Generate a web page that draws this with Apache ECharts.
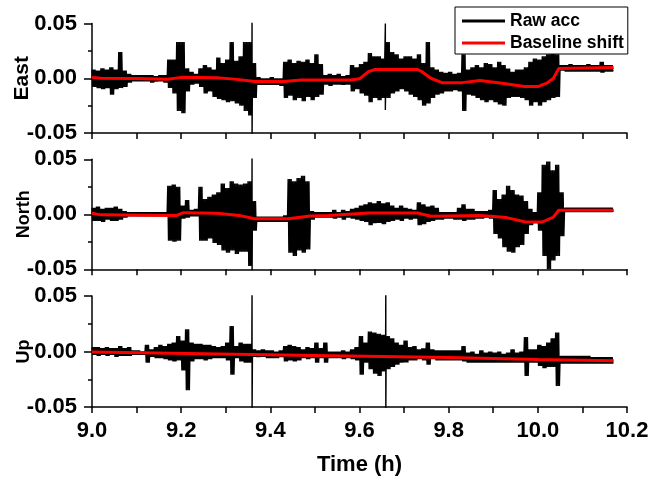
<!DOCTYPE html>
<html>
<head>
<meta charset="utf-8">
<script src="https://cdn.jsdelivr.net/npm/echarts@6/dist/echarts.min.js"></script>
<style>html,body{margin:0;padding:0;background:#fff}#c{width:651px;height:477px}</style>
</head>
<body>
<div id="c"></div>
<script>
// ---------------- DATA ----------------
// Raw acceleration envelopes, in units of 0.001, one bin per 0.01 h from 9.00 h to 10.16 h
const BIN_START = 9.00;
const BIN_WIDTH = 0.01;
const UNIT = 0.001;

const panelNames = ['East', 'North', 'Up'];
const xTicks = [9.0, 9.2, 9.4, 9.6, 9.8, 10.0, 10.2];
const yTicks = [-0.05, 0.00, 0.05];

const eastHi = [
  8,7,9,8,10,8,24,7,4,3,
  3,3,3,3,2,3,3,17,17,33,
  33,9,6,4,9,12,10,8,19,14,
  17,33,16,20,33,33,14,1,0,0,
  1,0,0,15,17,14,16,15,17,14,
  22,13,3,4,3,4,2,3,12,10,
  13,15,23,20,20,18,33,24,22,18,
  20,20,18,22,14,33,10,8,6,5,
  6,4,5,22,8,10,12,10,14,13,
  10,15,12,9,6,8,8,10,15,18,
  17,20,22,23,22,12,12,13,12,12,
  12,13,12,12,15,12,12
];
const eastLo = [
  -8,-9,-10,-9,-15,-10,-9,-8,-4,-3,
  -3,-3,-3,-4,-3,-3,-4,-9,-14,-30,
  -32,-12,-6,-5,-8,-14,-12,-17,-19,-20,
  -22,-21,-23,-25,-30,-34,-18,-6,-6,-6,
  -6,-6,-7,-18,-16,-20,-18,-21,-17,-20,
  -17,-15,-6,-7,-6,-6,-6,-6,-12,-10,
  -14,-16,-22,-18,-20,-18,-18,-14,-12,-10,
  -12,-15,-17,-20,-25,-23,-18,-15,-14,-12,
  -12,-11,-12,-30,-15,-16,-18,-20,-22,-20,
  -22,-24,-25,-18,-17,-17,-18,-20,-25,-22,
  -25,-22,-20,-18,-17,7,6,6,6,6,
  6,6,6,6,5,6,6
];
const eastSpikes = [[9.359, 60, -60], [9.658, 50, -29]];

const northHi = [
  6,7,5,6,6,7,5,3,2,2,
  2,2,2,2,2,2,2,26,27,25,
  8,13,4,5,25,14,16,18,20,28,
  24,30,28,27,28,30,12,-2,-2,-2,
  -2,-2,-2,-1,32,30,33,35,30,3,
  2,2,2,2,4,2,4,3,5,6,
  8,9,11,10,12,10,11,8,6,8,
  6,5,4,11,9,7,8,6,2,2,
  2,2,6,9,5,5,3,3,3,4,
  22,14,18,26,22,18,17,12,5,2,
  20,45,48,40,45,20,6,6,6,6,
  6,6,6,6,6,6,6
];
const northLo = [
  -6,-6,-7,-5,-6,-6,-5,-3,-2,-2,
  -2,-2,-2,-2,-2,-2,-2,-24,-25,-24,
  -4,-3,-2,-2,-24,-24,-22,-26,-28,-33,
  -35,-33,-36,-34,-34,-47,-15,-7,-7,-7,
  -7,-7,-7,-7,-35,-38,-33,-35,-32,-5,
  -3,-3,-3,-3,-4,-3,-5,-3,-4,-5,
  -6,-7,-10,-8,-8,-9,-7,-6,-5,-6,
  -4,-5,-4,-10,-9,-7,-6,-5,-5,-4,
  -4,-5,-5,-6,-5,-5,-4,-4,-3,-4,
  -18,-22,-30,-34,-35,-30,-28,-18,-10,-8,
  -15,-38,-50,-42,-38,-20,2,2,2,2,
  2,2,2,2,2,2,2
];
const northSpikes = [[9.359, 60, -60]];

const upHi = [
  4,4,3,4,3,3,5,3,4,1,
  1,0,6,2,4,6,5,7,8,14,
  10,20,8,7,7,6,6,5,4,5,
  8,23,5,8,7,7,2,1,2,1,
  1,0,1,5,6,5,4,2,4,3,
  8,3,8,0,0,0,1,0,2,4,
  14,8,18,17,16,15,14,12,8,6,
  10,4,5,2,3,8,2,1,1,1,
  1,1,1,5,-1,0,-2,1,-1,0,
  -1,0,-2,-1,2,-1,0,13,2,2,
  6,5,8,12,17,-4,-4,-4,-4,-4,
  -4,-4,-5,-5,-5,-5,-5
];
const upLo = [
  -3,-4,-3,-4,-3,-5,-4,-4,-4,-3,
  -3,-3,-10,-5,-6,-6,-7,-8,-9,-8,
  -17,-35,-9,-7,-7,-8,-7,-6,-6,-6,
  -8,-21,-6,-9,-10,-10,-5,-5,-5,-6,
  -6,-6,-5,-9,-8,-9,-8,-6,-7,-6,
  -10,-6,-10,-6,-6,-6,-7,-6,-7,-8,
  -21,-10,-16,-20,-22,-18,-16,-14,-12,-10,
  -10,-8,-8,-7,-8,-12,-7,-8,-8,-8,
  -8,-8,-8,-9,-10,-10,-10,-10,-10,-10,
  -10,-10,-10,-10,-10,-10,-10,-22,-10,-10,
  -13,-15,-14,-14,-31,-11,-11,-11,-11,-11,
  -11,-11,-11,-11,-11,-11,-11
];
const upSpikes = [[9.359, 60, -60], [9.659, 60, -60]];

// Baseline shift (red) key points [time h, value]
const eastBase = [[9.00,0.0008],[9.02,0.0000],[9.10,-0.0002],[9.17,-0.001],[9.20,0.0008],[9.28,0.0005],[9.32,-0.0008],[9.365,-0.003],[9.43,-0.003],[9.47,-0.0015],[9.58,-0.0015],[9.60,-0.0005],[9.62,0.006],[9.635,0.008],[9.73,0.008],[9.74,0.006],[9.76,0.000],[9.785,-0.004],[9.83,-0.004],[9.87,-0.002],[9.92,-0.0045],[9.97,-0.0076],[10.00,-0.0076],[10.02,-0.0045],[10.035,0.000],[10.047,0.009],[10.17,0.0098]];
const northBase = [[9.00,0.001],[9.02,-0.0005],[9.19,-0.001],[9.205,0.0015],[9.28,0.001],[9.33,-0.001],[9.365,-0.004],[9.44,-0.004],[9.49,-0.0015],[9.53,-0.001],[9.62,0.0012],[9.73,0.0012],[9.76,-0.0018],[9.87,-0.0012],[9.93,-0.003],[9.97,-0.0067],[10.01,-0.007],[10.035,-0.0025],[10.047,0.0037],[10.17,0.0037]];
const upBase = [[9.00,-0.0005],[9.25,-0.002],[9.50,-0.0035],[9.80,-0.0055],[10.00,-0.0072],[10.17,-0.0084]];

// ---------------- BUILD ----------------
// each bin's envelope is drawn as a fast oscillation between its read high and low values
const SWINGS_PER_BIN = 3;
function buildRaw(hi, lo, spikes) {
  const pts = [];
  const q = BIN_WIDTH / (2 * SWINGS_PER_BIN);
  for (let i = 0; i < hi.length; i++) {
    const t = BIN_START + i * BIN_WIDTH;
    for (let k = 0; k < SWINGS_PER_BIN; k++) {
      pts.push([t + 2 * k * q, hi[i] * UNIT]);
      pts.push([t + (2 * k + 1) * q, lo[i] * UNIT]);
    }
  }
  spikes.forEach(s => { pts.push([s[0], s[1] * UNIT]); pts.push([s[0], s[2] * UNIT]); });
  pts.sort((a, b) => a[0] - b[0]);
  return pts;
}

const FONT = "'Liberation Sans', Arial, sans-serif";
const raws = [buildRaw(eastHi, eastLo, eastSpikes), buildRaw(northHi, northLo, northSpikes), buildRaw(upHi, upLo, upSpikes)];
const bases = [eastBase, northBase, upBase];
const grids = [
  { left: 92, right: 24, top: 23.5, height: 109.5, outerBoundsMode: 'none', containLabel: false },
  { left: 92, right: 24, top: 159.3, height: 110, outerBoundsMode: 'none', containLabel: false },
  { left: 92, right: 24, top: 296, height: 111, outerBoundsMode: 'none', containLabel: false }
];
const nameSizes = [21, 18, 18];
const nameGaps = [59, 59, 59];

const xAxes = grids.map((g, i) => ({
  type: 'value', gridIndex: i, min: xTicks[0], max: xTicks[xTicks.length - 1], interval: xTicks[1] - xTicks[0],
  axisLine: { onZero: false, lineStyle: { color: '#000', width: 1.5 } },
  axisTick: { length: 6, lineStyle: { color: '#000', width: 1.5 } },
  minorTick: { show: true, splitNumber: 2, length: 6, lineStyle: { color: '#000', width: 1.5 } },
  splitLine: { show: false }, minorSplitLine: { show: false },
  axisLabel: { show: i === 2, margin: 13, color: '#000', fontFamily: FONT, fontWeight: 'bold', fontSize: 22, formatter: v => v.toFixed(1) },
  name: i === 2 ? 'Time (h)' : '', nameLocation: 'middle', nameGap: 47, nameMoveOverlap: false,
  nameTextStyle: { color: '#000', fontFamily: FONT, fontWeight: 'bold', fontSize: 22 }
}));
const yAxes = grids.map((g, i) => ({
  type: 'value', gridIndex: i, min: yTicks[0], max: yTicks[yTicks.length - 1], interval: yTicks[1] - yTicks[0],
  axisLine: { show: true, onZero: false, lineStyle: { color: '#000', width: 1.5 } },
  axisTick: { show: true, length: 8, lineStyle: { color: '#000', width: 1.5 } },
  minorTick: { show: true, splitNumber: 2, length: 4, lineStyle: { color: '#000', width: 1.5 } },
  splitLine: { show: false }, minorSplitLine: { show: false },
  axisLabel: { margin: 15, color: '#000', fontFamily: FONT, fontWeight: 'bold', fontSize: 22, formatter: v => v.toFixed(2) },
  name: panelNames[i], nameLocation: 'middle', nameGap: nameGaps[i], nameMoveOverlap: false,
  nameTextStyle: { color: '#000', fontFamily: FONT, fontWeight: 'bold', fontSize: nameSizes[i] }
}));

const series = [];
for (let i = 0; i < 3; i++) {
  series.push({ name: 'Raw acc', type: 'line', xAxisIndex: i, yAxisIndex: i, data: raws[i], showSymbol: false, symbol: 'none', clip: true,
    sampling: null, lineStyle: { color: '#000', width: 1.4 }, itemStyle: { color: '#000' }, z: 2 });
}
for (let i = 0; i < 3; i++) {
  series.push({ name: 'Baseline shift', type: 'line', xAxisIndex: i, yAxisIndex: i, data: bases[i], showSymbol: false, symbol: 'none', clip: true,
    lineStyle: { color: '#ff0000', width: 3 }, itemStyle: { color: '#ff0000' }, z: 3 });
}

const chart = echarts.init(document.getElementById('c'), null, { renderer: 'canvas' });
chart.setOption({
  animation: false,
  backgroundColor: '#fff',
  grid: grids,
  xAxis: xAxes,
  yAxis: yAxes,
  legend: {
    data: [{ name: 'Raw acc', icon: 'rect' }, { name: 'Baseline shift', icon: 'rect' }],
    orient: 'vertical', left: 455, top: 7,
    itemWidth: 43, itemHeight: 3, itemGap: 4,
    padding: [5, 4, 2, 7],
    borderColor: '#000', borderWidth: 1, backgroundColor: '#fff',
    textStyle: { color: '#000', fontFamily: FONT, fontWeight: 'bold', fontSize: 17.5 }
  },
  series: series
});
</script>
</body>
</html>
